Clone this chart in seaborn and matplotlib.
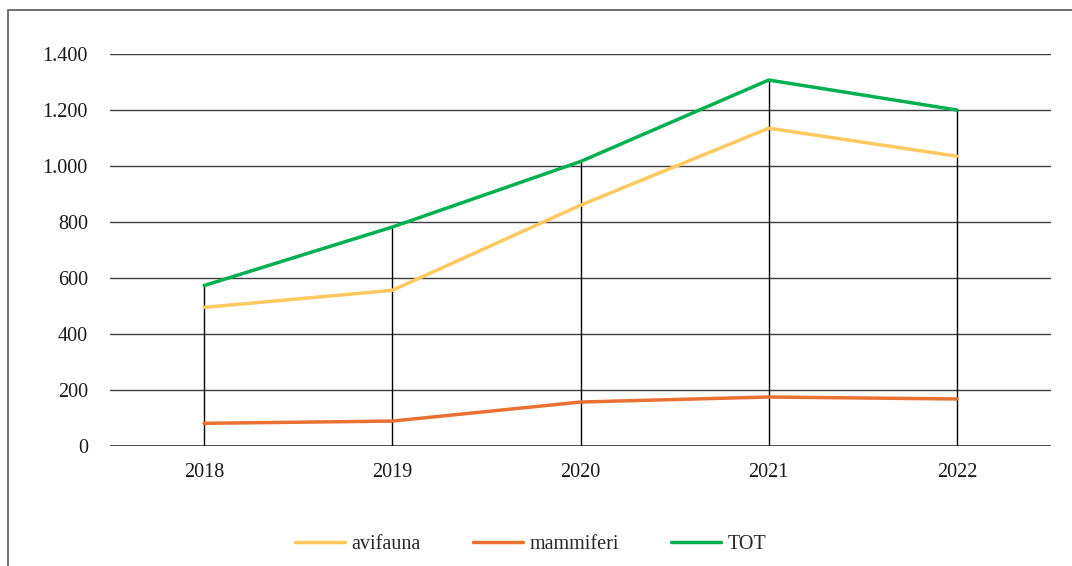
import matplotlib
matplotlib.use("Agg")
import matplotlib.pyplot as plt
import seaborn as sns
import pandas as pd
from matplotlib.patches import Rectangle
from matplotlib.ticker import FuncFormatter

years = ["2018", "2019", "2020", "2021", "2022"]
avifauna = [495, 556, 860, 1135, 1035]
mammiferi = [81, 89, 157, 175, 168]
tot = [573, 782, 1016, 1307, 1200]
series_names = ["avifauna", "mammiferi", "TOT"]
colors = ["#FFC95F", "#E97132", "#00B050"]

sns.set_theme(style="white")
plt.rcParams["font.family"] = ["Liberation Serif", "DejaVu Serif"]

df = pd.DataFrame({"anno": years * 3,
                   "valore": avifauna + mammiferi + tot,
                   "serie": sum([[n] * len(years) for n in series_names], [])})

fig = plt.figure(figsize=(10.72, 5.66), dpi=100)
ax = fig.add_axes([110 / 1072, 1 - 446 / 566, (1051 - 110) / 1072, (446 - 54) / 566])

# figure frame
fig.patches.append(Rectangle((8 / 1072, -0.1), 1.2, (566 - 10) / 566 + 0.1,
                             transform=fig.transFigure, fill=False,
                             edgecolor="#595959", linewidth=1.2))

ax.set_ylim(0, 1400)
ax.set_xlim(-0.5, 4.5)
ax.set_yticks(range(0, 1401, 200))
for v in range(200, 1401, 200):
    ax.axhline(v, color="#404040", linewidth=1.0, zorder=0)
ax.axhline(0, color="#404040", linewidth=1.3, zorder=0)

# drop lines
for i, v in enumerate(tot):
    ax.vlines(i, 0, v, color="black", linewidth=1.0, zorder=1)

sns.lineplot(data=df, x="anno", y="valore", hue="serie", palette=colors,
             hue_order=series_names, linewidth=2.5, ax=ax, sort=False, zorder=3)

for s in ax.spines.values():
    s.set_visible(False)
ax.set_xlabel("")
ax.set_ylabel("")
ax.yaxis.set_major_formatter(FuncFormatter(lambda v, p: f"{int(v):,}".replace(",", ".")))
ax.tick_params(axis="both", length=0, labelsize=14.5, colors="#1a1a1a")
ax.tick_params(axis="y", pad=16)
ax.tick_params(axis="x", pad=12)
ax.set_ylim(0, 1400)
ax.set_xlim(-0.5, 4.5)

ax.legend(loc="center", bbox_to_anchor=(0.5 - 50 / 941, 1 - (544 - 54) / 392), ncol=3,
          frameon=False, fontsize=14.5, handlelength=2.5, handletextpad=0.3,
          columnspacing=2.6)

fig.savefig("out.png", dpi=100)
